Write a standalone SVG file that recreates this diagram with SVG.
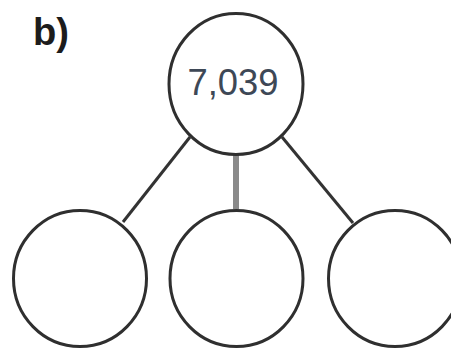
<svg xmlns="http://www.w3.org/2000/svg" width="451" height="349" viewBox="0 0 451 349">
<style>
.node{fill:#fff;stroke:#2f2f2f;stroke-width:3}
.conn{stroke:#333;stroke-width:3;fill:none}
.mid{stroke:#8a8a8a;stroke-width:6}
</style>
<rect width="451" height="349" fill="#fff"/>
<text x="33" y="45" font-family="Liberation Sans, Arial, sans-serif" font-weight="bold" font-size="38" fill="#1c1c1c" textLength="36" lengthAdjust="spacingAndGlyphs">b)</text>
<g id="connectors">
<line class="conn" x1="190" y1="137" x2="123" y2="222"/>
<line class="conn mid" x1="236" y1="155" x2="236" y2="209"/>
<line class="conn" x1="282" y1="137" x2="353" y2="223"/>
</g>
<g id="root">
<ellipse class="node" cx="236" cy="84" rx="67" ry="70.5"/>
<text x="233" y="95" text-anchor="middle" font-family="Liberation Sans, Arial, sans-serif" font-size="37" fill="#3e4856" textLength="91" lengthAdjust="spacingAndGlyphs">7,039</text>
</g>
<g id="child1"><ellipse class="node" cx="80" cy="278.5" rx="66.5" ry="68"/></g>
<g id="child2"><ellipse class="node" cx="236.5" cy="278.5" rx="66.5" ry="68"/></g>
<g id="child3"><ellipse class="node" cx="395" cy="278.5" rx="66.5" ry="68"/></g>
</svg>
